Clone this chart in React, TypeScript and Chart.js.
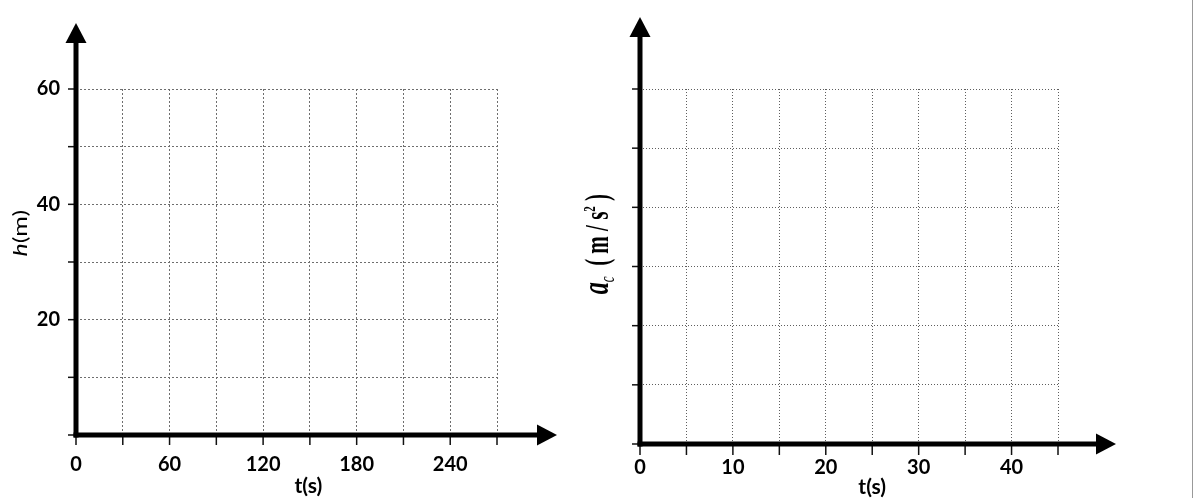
import { useEffect, useRef } from "react";
import { Chart, registerables } from "chart.js";

Chart.register(...registerables);

// left panel: height h(m) against time t(s)
const heightTicks = [0, 10, 20, 30, 40, 50, 60];
const heightLabels = [20, 40, 60];
const leftTimeTicks = [0, 30, 60, 90, 120, 150, 180, 210, 240, 270];
const leftTimeLabels = [0, 60, 120, 180, 240];

// right panel: centripetal acceleration a_c against time t(s), no y numbers
const accelTicks = [0, 1, 2, 3, 4, 5, 6];
const accelLabels: number[] = [];
const rightTimeTicks = [0, 5, 10, 15, 20, 25, 30, 35, 40, 45];
const rightTimeLabels = [0, 10, 20, 30, 40];

const H = 498;

type Part = { text: string; font: string; shift?: number };

interface Panel {
  offset: number;
  width: number;
  area: { left: number; top: number; right: number; bottom: number };
  xTicks: number[];
  xLabels: number[];
  yTicks: number[];
  yLabels: number[];
  gridColor: string;
  gridDash: number[];
  xPad: number;
  yPad: number;
  arrowX: number;
  arrowY: number;
  tickX: number;
  tickY: number;
  xTitleAt: number;
  xTitleDy: number;
  yTitle: Part[];
  yTitleDx: number;
  yTitleAt: number;
  yTitleStretch: number;
}

const sans = "Lato";
const serif = '"Liberation Serif"';

// rotated title made of several font runs; baseline sits at cx
const drawVertical = (
  ctx: CanvasRenderingContext2D,
  cx: number,
  cy: number,
  parts: Part[],
  stretch: number
) => {
  ctx.save();
  ctx.translate(cx, cy);
  ctx.rotate(-Math.PI / 2);
  ctx.scale(1, stretch);
  ctx.textBaseline = "alphabetic";
  ctx.textAlign = "left";
  const widths = parts.map((p) => {
    ctx.font = p.font;
    return ctx.measureText(p.text).width;
  });
  const total = widths.reduce((a, b) => a + b, 0);
  let x = -total / 2;
  parts.forEach((p, i) => {
    ctx.font = p.font;
    ctx.fillText(p.text, x, p.shift ?? 0);
    x += widths[i];
  });
  ctx.restore();
};

const axesPlugin = (p: Panel) => ({
  id: "axesArrows",
  afterDraw(chart: Chart) {
    const { ctx, chartArea: a } = chart;
    const xs = chart.scales.x;
    const ys = chart.scales.y;
    const x0 = xs.getPixelForValue(0);
    const y0 = ys.getPixelForValue(0);
    const line = (x1: number, y1: number, x2: number, y2: number) => {
      ctx.beginPath();
      ctx.moveTo(x1, y1);
      ctx.lineTo(x2, y2);
      ctx.stroke();
    };
    ctx.save();
    ctx.strokeStyle = "#111";
    ctx.fillStyle = "#000";

    // small tick marks outside the axes
    ctx.lineWidth = 1.5;
    p.xTicks.forEach((v) => {
      const px = xs.getPixelForValue(v);
      line(px, y0, px, y0 + p.tickX);
    });
    p.yTicks.forEach((v) => {
      const py = ys.getPixelForValue(v);
      line(x0 - p.tickY, py, x0, py);
    });

    // thick axes with arrow heads
    const head = 20;
    const half = 10.5;
    ctx.lineWidth = 5;
    ctx.strokeStyle = "#000";
    const tipX = a.right + p.arrowX;
    const tipY = a.top - p.arrowY;
    line(x0 - 2.5, y0, tipX - head + 1, y0);
    line(x0, y0 + 2.5, x0, tipY + head - 1);
    ctx.beginPath();
    ctx.moveTo(tipX, y0);
    ctx.lineTo(tipX - head, y0 - half);
    ctx.lineTo(tipX - head, y0 + half);
    ctx.closePath();
    ctx.fill();
    ctx.beginPath();
    ctx.moveTo(x0, tipY);
    ctx.lineTo(x0 - half, tipY + head);
    ctx.lineTo(x0 + half, tipY + head);
    ctx.closePath();
    ctx.fill();

    // axis titles
    ctx.textAlign = "center";
    ctx.textBaseline = "middle";
    ctx.font = `bold 21px ${sans}`;
    ctx.fillText("t(s)", xs.getPixelForValue(p.xTitleAt), a.bottom + p.xTitleDy);
    drawVertical(
      ctx,
      a.left + p.yTitleDx,
      ys.getPixelForValue(p.yTitleAt),
      p.yTitle,
      p.yTitleStretch
    );
    ctx.restore();
  },
});

const leftPanel: Panel = {
  offset: 0,
  width: 570,
  area: { left: 76, top: 89, right: 497, bottom: 435 },
  xTicks: leftTimeTicks,
  xLabels: leftTimeLabels,
  yTicks: heightTicks,
  yLabels: heightLabels,
  gridColor: "#6e6e6e",
  gridDash: [2, 2],
  xPad: 18,
  yPad: 16,
  arrowX: 60,
  arrowY: 66,
  tickX: 10,
  tickY: 8,
  xTitleAt: 149,
  xTitleDy: 51,
  yTitle: [
    { text: "h", font: `italic 25px ${sans}` },
    { text: "(m)", font: `25px ${sans}` },
  ],
  yTitleDx: -49,
  yTitleAt: 35,
  yTitleStretch: 0.8,
};

const rightPanel: Panel = {
  offset: 570,
  width: 630,
  area: { left: 70, top: 89, right: 488, bottom: 444 },
  xTicks: rightTimeTicks,
  xLabels: rightTimeLabels,
  yTicks: accelTicks,
  yLabels: accelLabels,
  gridColor: "#5e5e5e",
  gridDash: [1, 2],
  xPad: 12,
  yPad: 16,
  arrowX: 58,
  arrowY: 72,
  tickX: 11,
  tickY: 8,
  xTitleAt: 25,
  xTitleDy: 43,
  yTitle: [
    { text: "a", font: `italic bold 24px ${serif}` },
    { text: "c", font: `italic 13px ${serif}`, shift: 4 },
    { text: "  (", font: `bold 21px ${serif}` },
    { text: " m", font: `bold 21px ${serif}` },
    { text: " /", font: `bold 21px ${serif}` },
    { text: " s", font: `bold 21px ${serif}` },
    { text: "2", font: `bold 11px ${serif}`, shift: -8 },
    { text: " )", font: `bold 21px ${serif}` },
  ],
  yTitleDx: -32,
  yTitleAt: 3.38,
  yTitleStretch: 1.6,
};

const PanelChart = ({ p }: { p: Panel }) => {
  const ref = useRef<HTMLCanvasElement>(null);

  useEffect(() => {
    const ctx = ref.current!.getContext("2d")!;
    const tickFont = { family: sans, weight: "bold" as const, size: 20 };

    const chart = new Chart(ctx, {
      type: "scatter",
      data: { datasets: [] },
      options: {
        animation: false,
        responsive: false,
        maintainAspectRatio: false,
        layout: {
          padding: { left: 0, top: p.area.top, right: p.width - p.area.right, bottom: 0 },
        },
        plugins: {
          legend: { display: false },
          tooltip: { enabled: false },
        },
        scales: {
          x: {
            type: "linear",
            min: p.xTicks[0],
            max: p.xTicks[p.xTicks.length - 1],
            afterBuildTicks: (s) => {
              s.ticks = p.xTicks.map((value) => ({ value }));
            },
            afterFit: (s) => {
              s.height = H - p.area.bottom;
            },
            grid: { color: p.gridColor, lineWidth: 1, drawTicks: false },
            border: { display: false, dash: p.gridDash },
            ticks: {
              autoSkip: false,
              maxRotation: 0,
              padding: p.xPad,
              color: "#000",
              font: tickFont,
              callback: (v) => (p.xLabels.includes(Number(v)) ? String(v) : ""),
            },
          },
          y: {
            type: "linear",
            min: p.yTicks[0],
            max: p.yTicks[p.yTicks.length - 1],
            afterBuildTicks: (s) => {
              s.ticks = p.yTicks.map((value) => ({ value }));
            },
            afterFit: (s) => {
              s.width = p.area.left;
            },
            grid: { color: p.gridColor, lineWidth: 1, drawTicks: false },
            border: { display: false, dash: p.gridDash },
            ticks: {
              autoSkip: false,
              padding: p.yPad,
              color: "#000",
              font: tickFont,
              callback: (v) => (p.yLabels.includes(Number(v)) ? String(v) : ""),
            },
          },
        },
      },
      plugins: [axesPlugin(p)],
    });

    return () => {
      chart.destroy();
    };
  }, [p]);

  return (
    <canvas
      ref={ref}
      width={p.width}
      height={H}
      style={{ position: "absolute", left: p.offset, top: 0, width: p.width, height: H }}
    />
  );
};

export default function App() {
  return (
    <div
      style={{
        position: "fixed",
        left: 0,
        top: 0,
        width: 1200,
        height: H,
        background: "#fff",
        overflow: "hidden",
      }}
    >
      <PanelChart p={leftPanel} />
      <PanelChart p={rightPanel} />
      <div style={{ position: "absolute", left: 1192, top: 0, width: 1, height: H, background: "#999" }} />
    </div>
  );
}
